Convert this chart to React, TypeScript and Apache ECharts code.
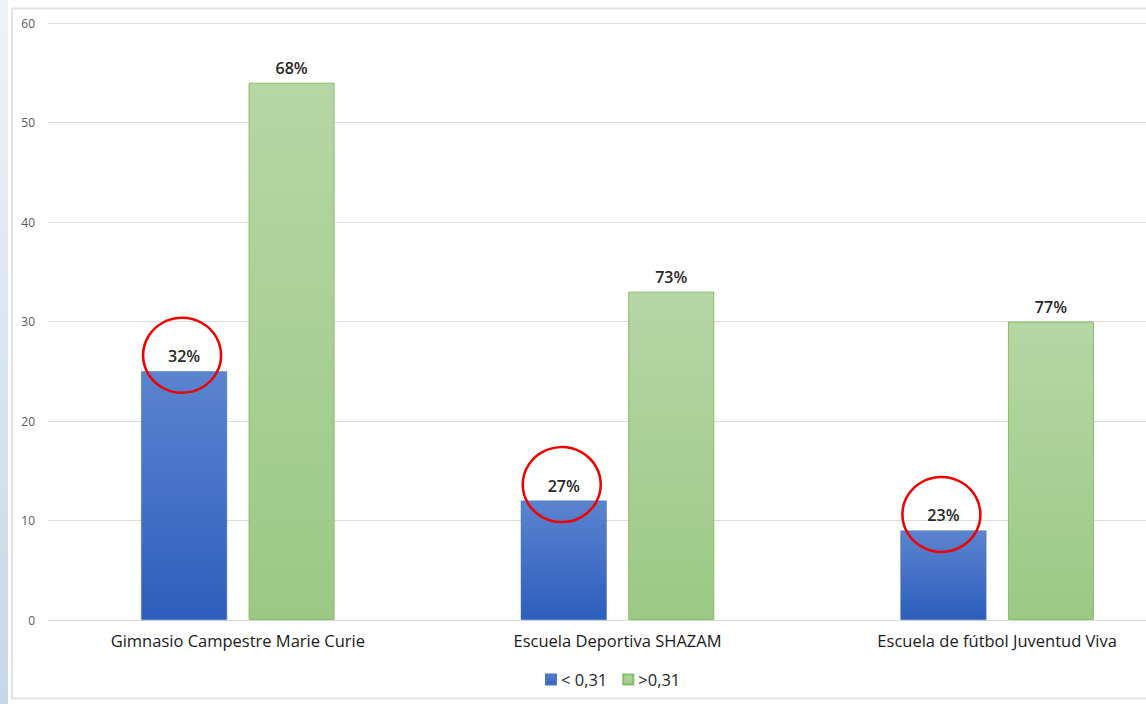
import React, { useEffect, useRef } from "react";
import * as echarts from "echarts";

const categories = [
  "Gimnasio Campestre Marie Curie",
  "Escuela Deportiva SHAZAM",
  "Escuela de fútbol Juventud Viva",
];
const lowValues = [25, 12, 9];
const highValues = [54, 33, 30];
const lowPct = ["32%", "27%", "23%"];
const highPct = ["68%", "73%", "77%"];
const seriesNames = ["< 0,31", ">0,31"];

const FONT = "'Open Sans', 'Noto Sans', sans-serif";

export default function App() {
  const ref = useRef<HTMLDivElement>(null);
  useEffect(() => {
    document.body.style.margin = "0";
    if (!ref.current) return;
    const chart = echarts.init(ref.current, undefined, { renderer: "svg" });
    const blue = new echarts.graphic.LinearGradient(0, 0, 0, 1, [
      { offset: 0, color: "#5b84cf" },
      { offset: 1, color: "#2d5ebd" },
    ]);
    const green = new echarts.graphic.LinearGradient(0, 0, 0, 1, [
      { offset: 0, color: "#b6d6a6" },
      { offset: 1, color: "#9bc984" },
    ]);
    chart.setOption({
      animation: false,
      backgroundColor: "#ffffff",
      textStyle: { fontFamily: FONT },
      graphic: [
        {
          type: "rect",
          z: -10,
          shape: { x: 0, y: 0, width: 8, height: 704 },
          style: {
            fill: new echarts.graphic.LinearGradient(0, 0, 0, 1, [
              { offset: 0, color: "#eef3f9" },
              { offset: 1, color: "#c6d7e7" },
            ]),
          },
        },
        {
          type: "rect",
          z: -10,
          shape: { x: 12, y: 8.5, width: 1300, height: 690 },
          style: { fill: "none", stroke: "#e3e3e3", lineWidth: 2 },
        },
      ],
      grid: { left: 48, top: 23, bottom: 84, right: 3 },
      legend: {
        top: 666,
        left: 540,
        itemWidth: 10,
        itemHeight: 10,
        itemGap: 15,
        icon: "rect",
        textStyle: { fontSize: 16.5, color: "#262626", fontFamily: FONT },
        data: seriesNames,
      },
      xAxis: {
        type: "category",
        data: categories,
        axisLine: { lineStyle: { color: "#d9d9d9" } },
        axisTick: { show: false },
        axisLabel: { fontSize: 16.5, color: "#1a1a1a", margin: 12, fontFamily: FONT },
      },
      yAxis: {
        type: "value",
        min: 0,
        max: 60,
        interval: 10,
        axisLine: { show: false },
        axisTick: { show: false },
        splitLine: { lineStyle: { color: "#dcdcdc" } },
        axisLabel: { fontSize: 12, color: "#595959", margin: 13, fontFamily: FONT },
      },
      series: [
        {
          name: seriesNames[0],
          type: "bar",
          data: lowValues,
          barWidth: 86,
          barGap: "25%",
          itemStyle: { color: blue, borderColor: "#4a74c6", borderWidth: 0.5 },
          label: {
            show: true,
            position: "top",
            distance: 7,
            formatter: (p: any) => lowPct[p.dataIndex],
            fontSize: 16,
            fontWeight: 600,
            color: "#262626",
            fontFamily: FONT,
          },
          markPoint: {
            symbol: "circle",
            symbolSize: [78, 75],
            symbolOffset: [-2, -16],
            silent: true,
            label: { show: false },
            itemStyle: { color: "rgba(0,0,0,0)", borderColor: "#f00000", borderWidth: 2.5 },
            data: lowValues.map((v, i) => ({ coord: [i, v] })),
          },
        },
        {
          name: seriesNames[1],
          type: "bar",
          data: highValues,
          barWidth: 86,
          barGap: "25%",
          itemStyle: { color: green, borderColor: "#86bd67", borderWidth: 1 },
          label: {
            show: true,
            position: "top",
            distance: 7,
            formatter: (p: any) => highPct[p.dataIndex],
            fontSize: 16,
            fontWeight: 600,
            color: "#262626",
            fontFamily: FONT,
          },
        },
      ],
    });
    return () => chart.dispose();
  }, []);
  return (
    <div style={{ width: 1146, height: 704, overflow: "hidden", position: "relative" }}>
      <div ref={ref} style={{ width: 1190, height: 704 }} />
    </div>
  );
}
